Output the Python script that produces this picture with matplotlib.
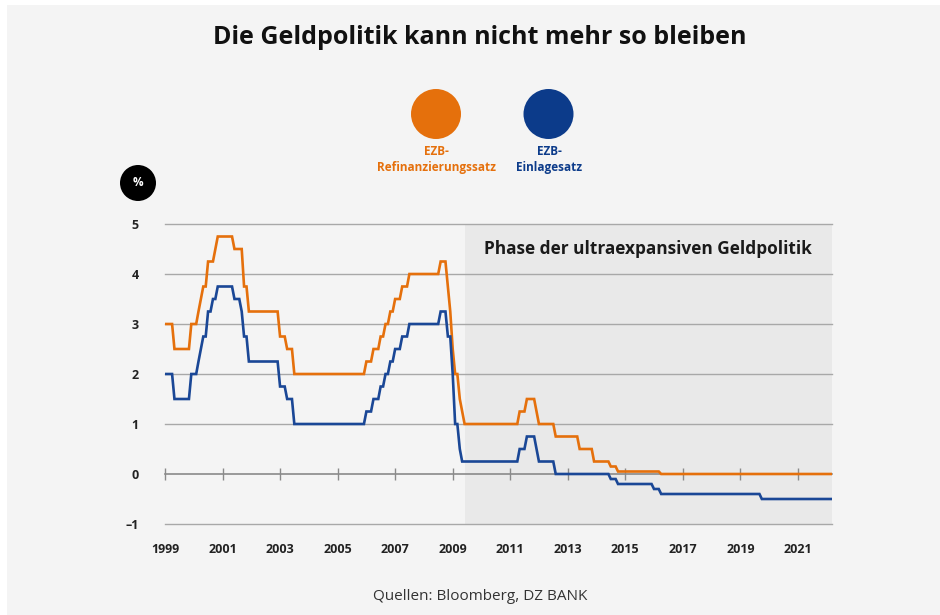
import matplotlib
matplotlib.use("Agg")
import matplotlib.pyplot as plt
import matplotlib.dates as mdates
from matplotlib.patches import Circle, Rectangle
import pandas as pd

# ---- data (ECB rate change dates and levels) ----
refi_dates = ["1999-01-01", "1999-04-09", "1999-11-10", "2000-02-09", "2000-03-22",
              "2000-04-28", "2000-06-09", "2000-09-06", "2000-10-11", "2001-05-15",
              "2001-09-05", "2001-09-18", "2001-11-14", "2002-12-11", "2003-03-12",
              "2003-06-09", "2005-12-12", "2006-03-15", "2006-06-15", "2006-08-15",
              "2006-10-11", "2006-12-13", "2007-03-14", "2007-06-13", "2008-07-09",
              "2008-10-15", "2008-11-12", "2008-12-10", "2009-01-21", "2009-03-11",
              "2009-04-08", "2009-05-13", "2011-04-13", "2011-07-13", "2011-11-09",
              "2011-12-14", "2012-07-11", "2013-05-08", "2013-11-13", "2014-06-11",
              "2014-09-10", "2016-03-16"]
refi_values = [3.00, 2.50, 3.00, 3.25, 3.50, 3.75, 4.25, 4.50, 4.75, 4.50,
               4.25, 3.75, 3.25, 2.75, 2.50, 2.00, 2.25, 2.50, 2.75, 3.00,
               3.25, 3.50, 3.75, 4.00, 4.25, 3.75, 3.25, 2.50, 2.00, 1.50,
               1.25, 1.00, 1.25, 1.50, 1.25, 1.00, 0.75, 0.50, 0.25, 0.15,
               0.05, 0.00]

depo_dates = ["1999-01-01", "1999-04-09", "1999-11-05", "2000-02-04", "2000-03-17",
              "2000-04-28", "2000-06-09", "2000-09-01", "2000-10-06", "2001-05-11",
              "2001-08-31", "2001-09-18", "2001-11-09", "2002-12-06", "2003-03-07",
              "2003-06-06", "2005-12-06", "2006-03-08", "2006-06-15", "2006-08-09",
              "2006-10-11", "2006-12-13", "2007-03-14", "2007-06-13", "2008-07-09",
              "2008-10-15", "2008-11-12", "2008-12-10", "2009-01-21", "2009-03-11",
              "2009-04-08", "2011-04-13", "2011-07-13", "2011-11-09", "2011-12-14",
              "2012-07-11", "2014-06-11", "2014-09-10", "2015-12-09", "2016-03-16",
              "2019-09-18"]
depo_values = [2.00, 1.50, 2.00, 2.25, 2.50, 2.75, 3.25, 3.50, 3.75, 3.50,
               3.25, 2.75, 2.25, 1.75, 1.50, 1.00, 1.25, 1.50, 1.75, 2.00,
               2.25, 2.50, 2.75, 3.00, 3.25, 2.75, 2.75, 2.00, 1.00, 0.50,
               0.25, 0.50, 0.75, 0.50, 0.25, 0.00, -0.10, -0.20, -0.30, -0.40,
               -0.50]

series_start = "1999-01-01"
series_end = "2022-03-01"
phase_start = "2009-06-01"

x_tick_years = [1999, 2001, 2003, 2005, 2007, 2009, 2011, 2013, 2015, 2017, 2019, 2021]
y_ticks = [-1, 0, 1, 2, 3, 4, 5]

title = "Die Geldpolitik kann nicht mehr so bleiben"
label_refi = "EZB-\nRefinanzierungssatz"
label_depo = "EZB-\nEinlagesatz"
phase_label = "Phase der ultraexpansiven Geldpolitik"
source = "Quellen: Bloomberg, DZ BANK"

# ---- style ----
ORANGE = "#e5700c"
BLUE = "#1a4796"
BLUE_DOT = "#0c3b8a"
BG = "#f4f4f4"
SHADE = "#e9e9e9"
GRID = "#a8a8a8"
FONT = ["Open Sans", "DejaVu Sans"]
plt.rcParams["font.family"] = FONT

monthly = pd.date_range(series_start, series_end, freq="MS")
refi = pd.Series(refi_values, index=pd.to_datetime(refi_dates)).reindex(monthly, method="ffill")
depo = pd.Series(depo_values, index=pd.to_datetime(depo_dates)).reindex(monthly, method="ffill")

fig = plt.figure(figsize=(9.4, 6.15), dpi=100, facecolor="white")
fig.add_artist(Rectangle((7 / 940, 0), 1, 1 - 5 / 615, transform=fig.transFigure,
                         facecolor=BG, edgecolor="none", zorder=-10))

ax = fig.add_axes([165 / 940, 1 - 524 / 615, (832 - 165) / 940, 300 / 615])
ax.set_facecolor("none")

xmin = pd.Timestamp("1999-01-01")
xmax = pd.Timestamp("2022-03-10")
ax.set_xlim(xmin, xmax)
ax.set_ylim(-1, 5)

ax.axvspan(pd.Timestamp(phase_start), xmax, color=SHADE, zorder=0, lw=0)

for yv in y_ticks:
    if yv != 0:
        ax.axhline(yv, color=GRID, lw=1.0, zorder=1, clip_on=False)

ax.plot(refi.index, refi.values, color=ORANGE, lw=1.9, zorder=4, solid_joinstyle="miter")
ax.plot(depo.index, depo.values, color=BLUE, lw=1.9, zorder=4, solid_joinstyle="miter")

for s in ax.spines.values():
    s.set_visible(False)

xticks = [pd.Timestamp(f"{y}-01-01") for y in x_tick_years]
ax.set_xticks(xticks)
ax.set_xticklabels([str(y) for y in x_tick_years])
ax.tick_params(axis="x", length=0, pad=14, labelsize=9, labelcolor="#222222")
for lab in ax.get_xticklabels():
    lab.set_fontweight("bold")

ax.set_yticks(y_ticks)
ax.set_yticklabels(["\u2013" + str(abs(v)) if v < 0 else str(v) for v in y_ticks])
ax.tick_params(axis="y", length=0, pad=19, labelsize=9, labelcolor="#222222")
for lab in ax.get_yticklabels():
    lab.set_fontweight("bold")

# zero line with tick marks
sec = ax.secondary_xaxis(0, transform=ax.transData)
sec.set_xticks(xticks)
sec.set_xticklabels([])
sec.spines["bottom"].set_color("#8a8a8a")
sec.spines["bottom"].set_linewidth(1.2)
sec.tick_params(axis="x", direction="inout", length=9, width=1.0, color="#8a8a8a")

ax.text(0.5 * (mdates.date2num(pd.Timestamp(phase_start)) + mdates.date2num(xmax)), 4.5,
        phase_label, ha="center", va="center", fontsize=12.4, fontweight="bold", color="#1a1a1a")

fig.text(480 / 940, 1 - 38 / 615, title, ha="center", va="center", fontsize=18,
         fontweight="bold", color="#111111")

# legend
fig.add_artist(Circle((4.36, 6.15 - 1.14), 0.25, transform=fig.dpi_scale_trans,
                      facecolor=ORANGE, edgecolor="none"))
fig.add_artist(Circle((5.485, 6.15 - 1.14), 0.25, transform=fig.dpi_scale_trans,
                      facecolor=BLUE_DOT, edgecolor="none"))
fig.text(436 / 940, 1 - 145 / 615, label_refi, ha="center", va="top", fontsize=8.5,
         fontweight="bold", color=ORANGE, linespacing=1.25)
fig.text(549 / 940, 1 - 145 / 615, label_depo, ha="center", va="top", fontsize=8.5,
         fontweight="bold", color=BLUE_DOT, linespacing=1.25)

# percent badge
fig.add_artist(Circle((1.38, 6.15 - 1.83), 0.18, transform=fig.dpi_scale_trans,
                      facecolor="black", edgecolor="none"))
fig.text(138 / 940, 1 - 183 / 615, "%", ha="center", va="center", fontsize=8.5,
         fontweight="bold", color="white")

fig.text(480 / 940, 1 - 596 / 615, source, ha="center", va="center", fontsize=11,
         color="#333333")

fig.savefig("out.png", dpi=100, facecolor=fig.get_facecolor())
